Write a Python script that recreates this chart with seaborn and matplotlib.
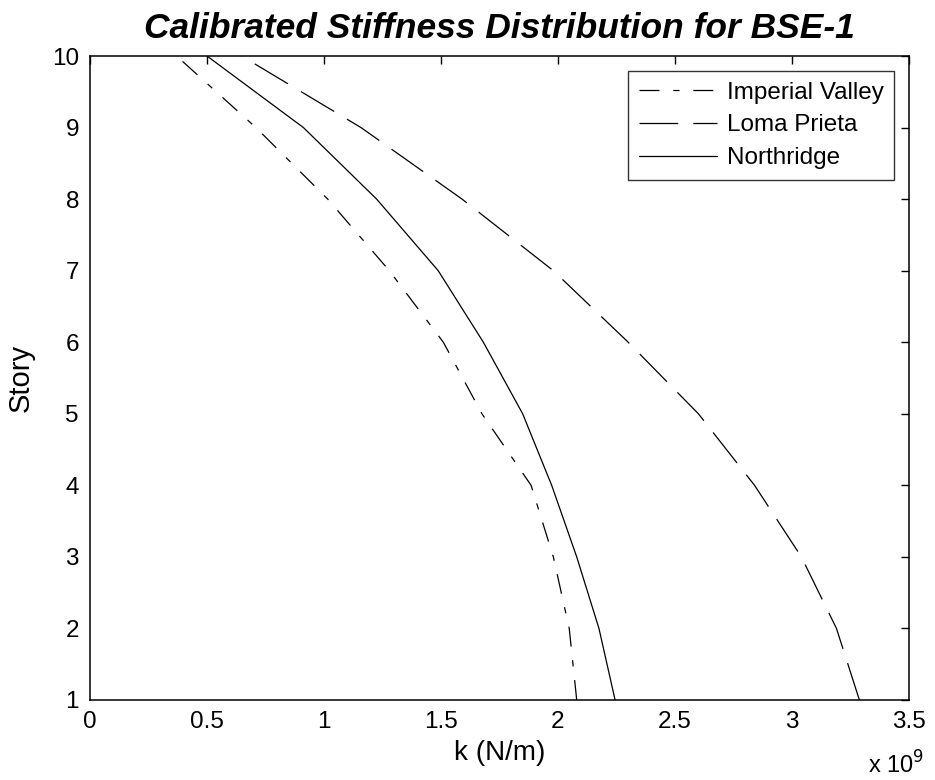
import numpy as np
import pandas as pd
import matplotlib
matplotlib.use("Agg")
import matplotlib.pyplot as plt
import seaborn as sns

# ---- data (stiffness in N/m per story) ----
stories = [1, 2, 3, 4, 5, 6, 7, 8, 9, 10]
imperial_valley = [2.08e9, 2.048e9, 1.98e9, 1.885e9, 1.675e9, 1.51e9, 1.279e9, 1.016e9, 0.709e9, 0.37e9]
loma_prieta = [3.288e9, 3.19e9, 3.04e9, 2.84e9, 2.60e9, 2.30e9, 1.98e9, 1.59e9, 1.158e9, 0.648e9]
northridge = [2.244e9, 2.175e9, 2.08e9, 1.973e9, 1.849e9, 1.681e9, 1.488e9, 1.225e9, 0.912e9, 0.50e9]
series_names = ["Imperial Valley", "Loma Prieta", "Northridge"]
x_ticks = [0, 0.5e9, 1.0e9, 1.5e9, 2.0e9, 2.5e9, 3.0e9, 3.5e9]
x_tick_labels = ["0", "0.5", "1", "1.5", "2", "2.5", "3", "3.5"]
y_ticks = [1, 2, 3, 4, 5, 6, 7, 8, 9, 10]

sns.set_theme(style="white")
plt.rcParams["font.family"] = ["Liberation Sans", "DejaVu Sans"]

fig = plt.figure(figsize=(9.35, 7.8), dpi=100)
ax = fig.add_axes([90 / 935, 1 - 700 / 780, 819 / 935, 644 / 780])

styles = {
    "Imperial Valley": (0, (16, 11, 5, 11)),
    "Loma Prieta": (0, (31, 12)),
    "Northridge": "-",
}
values = {"Imperial Valley": imperial_valley, "Loma Prieta": loma_prieta, "Northridge": northridge}

for name in series_names:
    df = pd.DataFrame({"k": values[name], "story": stories})
    sns.lineplot(data=df, x="k", y="story", sort=False, estimator=None, ax=ax,
                 color="black", linewidth=0.9, linestyle=styles[name], label=name)

ax.set_xlim(0, 3.5e9)
ax.set_ylim(1, 10)
ax.set_xticks(x_ticks)
ax.set_xticklabels(x_tick_labels)
ax.set_yticks(y_ticks)
ax.set_yticklabels([str(v) for v in y_ticks])
ax.tick_params(direction="in", length=6, width=1, top=True, right=True,
               labelsize=17.5, colors="black", pad=8)
for sp in ax.spines.values():
    sp.set_color("black")
    sp.set_linewidth(1.1)

ax.set_xlabel("k (N/m)", fontsize=20, color="black", labelpad=5)
ax.set_ylabel("Story", fontsize=21, color="black", labelpad=12)
ax.set_title("Calibrated Stiffness Distribution for BSE-1", fontsize=25.5,
             fontweight="bold", fontstyle="italic", color="black", pad=13)

fig.text(868 / 935, 1 - 765 / 780, r"x 10$^{9}$", fontsize=17, color="black",
         va="center", ha="left")

leg = ax.legend(loc="upper right", fontsize=17.5, frameon=True, fancybox=False,
                edgecolor="black", handlelength=3.2, labelspacing=0.45,
                borderaxespad=0.6, handletextpad=0.4, borderpad=0.45)
leg.get_frame().set_linewidth(1.0)
for t in leg.get_texts():
    t.set_color("black")

fig.savefig("out.png", dpi=100, facecolor="white")
